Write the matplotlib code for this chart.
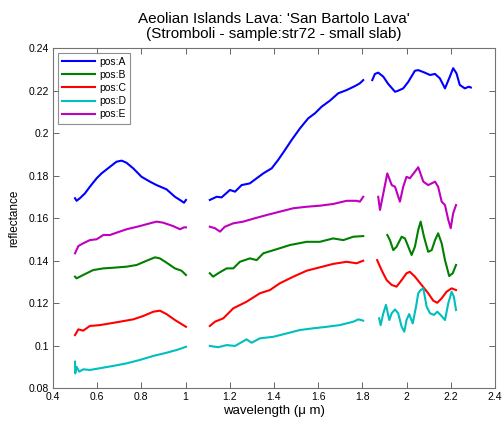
import matplotlib
matplotlib.use("Agg")
import matplotlib.pyplot as plt
import numpy as np

plt.rcParams['font.family'] = ['Liberation Sans', 'DejaVu Sans']

# spectra, three detector segments each
wl_a = [[0.500, 0.507, 0.522, 0.545, 0.567, 0.598, 0.620, 0.658, 0.688, 0.711, 0.733, 0.763, 0.801, 0.839, 0.869, 0.914, 0.952, 0.982, 0.993, 1.002],
        [1.110, 1.141, 1.163, 1.201, 1.224, 1.254, 1.291, 1.322, 1.352, 1.390, 1.419, 1.450, 1.480, 1.518, 1.555, 1.586, 1.616, 1.653, 1.691, 1.729, 1.767, 1.789, 1.804],
        [1.845, 1.857, 1.872, 1.895, 1.917, 1.948, 1.962, 1.985, 2.008, 2.038, 2.053, 2.083, 2.106, 2.129, 2.151, 2.174, 2.196, 2.211, 2.226, 2.241, 2.264, 2.282, 2.291]]
ref_a = [[0.1693, 0.1681, 0.1693, 0.1716, 0.1747, 0.1787, 0.1810, 0.1841, 0.1865, 0.1870, 0.1860, 0.1834, 0.1794, 0.1771, 0.1755, 0.1735, 0.1700, 0.1680, 0.1672, 0.1685],
         [0.1685, 0.1700, 0.1697, 0.1732, 0.1724, 0.1755, 0.1763, 0.1787, 0.1810, 0.1834, 0.1873, 0.1920, 0.1967, 0.2022, 0.2069, 0.2093, 0.2124, 0.2152, 0.2187, 0.2202, 0.2221, 0.2234, 0.2249],
         [0.2249, 0.2278, 0.2284, 0.2265, 0.2231, 0.2194, 0.2199, 0.2210, 0.2241, 0.2293, 0.2296, 0.2284, 0.2273, 0.2278, 0.2257, 0.2210, 0.2265, 0.2305, 0.2281, 0.2226, 0.2210, 0.2218, 0.2214]]

wl_b = [[0.500, 0.507, 0.537, 0.582, 0.628, 0.673, 0.733, 0.779, 0.824, 0.862, 0.884, 0.914, 0.952, 0.982, 1.002],
        [1.110, 1.125, 1.148, 1.186, 1.216, 1.246, 1.291, 1.322, 1.352, 1.412, 1.473, 1.548, 1.608, 1.668, 1.714, 1.759, 1.804],
        [1.913, 1.925, 1.940, 1.955, 1.978, 1.993, 2.008, 2.023, 2.038, 2.053, 2.064, 2.079, 2.098, 2.114, 2.129, 2.143, 2.159, 2.174, 2.193, 2.209, 2.224]]
ref_b = [[0.1324, 0.1316, 0.1332, 0.1355, 0.1363, 0.1366, 0.1371, 0.1379, 0.1399, 0.1415, 0.1410, 0.1390, 0.1363, 0.1352, 0.1332],
         [0.1340, 0.1324, 0.1340, 0.1363, 0.1363, 0.1394, 0.1410, 0.1402, 0.1434, 0.1453, 0.1473, 0.1488, 0.1488, 0.1504, 0.1496, 0.1512, 0.1515],
         [0.1520, 0.1496, 0.1449, 0.1465, 0.1512, 0.1504, 0.1465, 0.1426, 0.1465, 0.1544, 0.1583, 0.1512, 0.1441, 0.1449, 0.1496, 0.1528, 0.1481, 0.1402, 0.1327, 0.1340, 0.1379]]

wl_c = [[0.500, 0.515, 0.537, 0.567, 0.612, 0.658, 0.703, 0.763, 0.809, 0.854, 0.884, 0.914, 0.952, 0.982, 1.002],
        [1.110, 1.133, 1.171, 1.216, 1.276, 1.337, 1.382, 1.427, 1.488, 1.548, 1.608, 1.668, 1.729, 1.774, 1.804],
        [1.867, 1.887, 1.910, 1.933, 1.955, 1.978, 2.000, 2.015, 2.038, 2.068, 2.098, 2.121, 2.139, 2.159, 2.181, 2.204, 2.224]]
ref_c = [[0.1049, 0.1076, 0.1070, 0.1092, 0.1096, 0.1104, 0.1112, 0.1123, 0.1139, 0.1159, 0.1164, 0.1148, 0.1120, 0.1101, 0.1088],
         [0.1092, 0.1112, 0.1128, 0.1175, 0.1206, 0.1246, 0.1261, 0.1293, 0.1324, 0.1352, 0.1368, 0.1384, 0.1394, 0.1387, 0.1399],
         [0.1402, 0.1355, 0.1308, 0.1285, 0.1277, 0.1308, 0.1340, 0.1347, 0.1324, 0.1285, 0.1246, 0.1211, 0.1201, 0.1222, 0.1253, 0.1269, 0.1261]]

wl_d = [[0.500, 0.501, 0.507, 0.519, 0.537, 0.567, 0.612, 0.673, 0.733, 0.793, 0.854, 0.914, 0.960, 1.002],
        [1.110, 1.148, 1.186, 1.224, 1.276, 1.299, 1.337, 1.397, 1.458, 1.518, 1.578, 1.638, 1.698, 1.759, 1.782, 1.804],
        [1.876, 1.883, 1.895, 1.907, 1.922, 1.933, 1.948, 1.962, 1.978, 1.990, 2.000, 2.012, 2.028, 2.043, 2.053, 2.064, 2.076, 2.091, 2.106, 2.124, 2.139, 2.154, 2.174, 2.189, 2.204, 2.214, 2.224]]
ref_d = [[0.0924, 0.0869, 0.0900, 0.0877, 0.0888, 0.0885, 0.0893, 0.0904, 0.0916, 0.0932, 0.0951, 0.0966, 0.0979, 0.0994],
         [0.0998, 0.0992, 0.1002, 0.0998, 0.1029, 0.1013, 0.1034, 0.1041, 0.1057, 0.1073, 0.1081, 0.1088, 0.1096, 0.1112, 0.1123, 0.1117],
         [0.1128, 0.1096, 0.1152, 0.1191, 0.1120, 0.1152, 0.1170, 0.1152, 0.1088, 0.1065, 0.1120, 0.1148, 0.1104, 0.1183, 0.1246, 0.1261, 0.1269, 0.1183, 0.1152, 0.1144, 0.1159, 0.1144, 0.1120, 0.1199, 0.1253, 0.1230, 0.1167]]

wl_e = [[0.500, 0.515, 0.537, 0.567, 0.598, 0.628, 0.658, 0.688, 0.733, 0.793, 0.839, 0.869, 0.899, 0.944, 0.975, 0.993, 1.002],
        [1.110, 1.133, 1.156, 1.178, 1.216, 1.261, 1.314, 1.367, 1.427, 1.488, 1.548, 1.608, 1.668, 1.729, 1.774, 1.789, 1.804],
        [1.872, 1.880, 1.895, 1.913, 1.933, 1.948, 1.970, 1.985, 2.000, 2.015, 2.038, 2.053, 2.076, 2.098, 2.129, 2.143, 2.159, 2.174, 2.189, 2.200, 2.211, 2.224]]
ref_e = [[0.1434, 0.1468, 0.1481, 0.1496, 0.1500, 0.1520, 0.1520, 0.1531, 0.1547, 0.1562, 0.1575, 0.1583, 0.1578, 0.1562, 0.1547, 0.1556, 0.1556],
         [0.1559, 0.1552, 0.1536, 0.1559, 0.1575, 0.1583, 0.1599, 0.1614, 0.1630, 0.1646, 0.1653, 0.1658, 0.1666, 0.1681, 0.1681, 0.1677, 0.1700],
         [0.1700, 0.1638, 0.1716, 0.1810, 0.1755, 0.1747, 0.1677, 0.1747, 0.1794, 0.1787, 0.1818, 0.1839, 0.1771, 0.1755, 0.1771, 0.1747, 0.1677, 0.1661, 0.1591, 0.1552, 0.1622, 0.1661]]

labels = ['pos:A', 'pos:B', 'pos:C', 'pos:D', 'pos:E']
clrs = [(0, 0, 1), (0, 0.5, 0), (1, 0, 0), (0, 0.75, 0.75), (0.75, 0, 0.75)]

xticks = [0.4, 0.6, 0.8, 1.0, 1.2, 1.4, 1.6, 1.8, 2.0, 2.2, 2.4]
xticklabels = ['0.4', '0.6', '0.8', '1', '1.2', '1.4', '1.6', '1.8', '2', '2.2', '2.4']
yticks = [0.08, 0.1, 0.12, 0.14, 0.16, 0.18, 0.2, 0.22, 0.24]
yticklabels = ['0.08', '0.1', '0.12', '0.14', '0.16', '0.18', '0.2', '0.22', '0.24']

fig = plt.figure(figsize=(5.04, 4.23), dpi=100)
ax = fig.add_axes([0.105, 0.0827, 0.877, 0.8038])

all_wl = [wl_a, wl_b, wl_c, wl_d, wl_e]
all_ref = [ref_a, ref_b, ref_c, ref_d, ref_e]
for i in range(5):
    # join segments with NaN so the gaps stay open, like the detector breaks
    xs = []
    ys = []
    for k in range(3):
        xs = xs + list(all_wl[i][k]) + [np.nan]
        ys = ys + list(all_ref[i][k]) + [np.nan]
    ax.plot(xs, ys, color=clrs[i], lw=1.5, label=labels[i])

ax.set_xlim(0.4, 2.4)
ax.set_ylim(0.08, 0.24)
ax.set_xticks(xticks)
ax.set_xticklabels(xticklabels)
ax.set_yticks(yticks)
ax.set_yticklabels(yticklabels)
ax.tick_params(direction='in', top=True, right=True, labelsize=7.5, length=4, width=0.6, colors='0.3', labelcolor='k', pad=3)
for s in ax.spines.values():
    s.set_color('0.45')
    s.set_linewidth(0.8)

ax.set_xlabel('wavelength (\u03bc m)', fontsize=9.5, labelpad=2)
ax.set_ylabel('reflectance', fontsize=8.5, labelpad=6)
ax.set_title("Aeolian Islands Lava: 'San Bartolo Lava'\n(Stromboli - sample:str72 - small slab)", fontsize=11, pad=7, linespacing=1.15)

leg = ax.legend(loc='upper left', fontsize=7.5, frameon=True, fancybox=False, handlelength=3.2, handletextpad=0.4,
                borderpad=0.4, labelspacing=0.3, borderaxespad=0.45)
leg.get_frame().set_edgecolor('0.45')
leg.get_frame().set_linewidth(0.8)

plt.savefig('out.png', dpi=100)
